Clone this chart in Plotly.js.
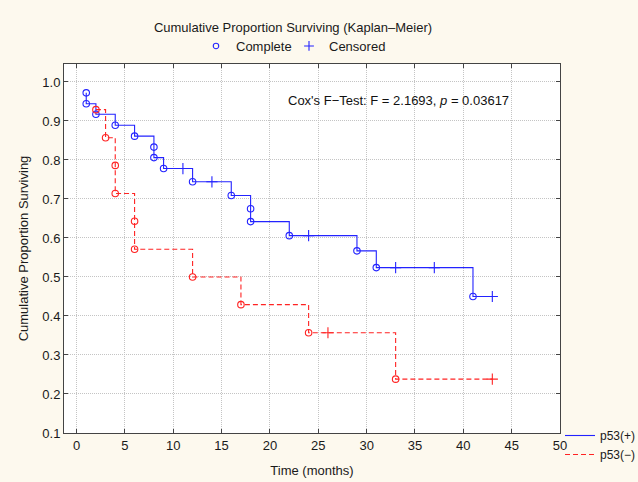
<!DOCTYPE html>
<html><head><meta charset="utf-8">
<script src="https://cdn.plot.ly/plotly-3.0.1.min.js"></script>
<style>html,body{margin:0;padding:0;background:#fdf9ee}</style>
</head><body><div id="chart" style="width:638px;height:482px"></div>
<script>
// p53(+) group: time (months), cumulative proportion surviving, status (1 = complete, 0 = censored)
const posTimes  = [1, 1, 2, 4, 6, 8, 8, 9, 11, 12, 14, 16, 18, 18, 22, 24, 29, 31, 33, 37, 41, 43];
const posSurv   = [0.972, 0.944, 0.917, 0.889, 0.861, 0.833, 0.806, 0.778, 0.778, 0.744, 0.744, 0.709, 0.675, 0.642, 0.606, 0.606, 0.567, 0.524, 0.524, 0.524, 0.450, 0.450];
const posStatus = [1, 1, 1, 1, 1, 1, 1, 1, 0, 1, 0, 1, 1, 1, 1, 0, 1, 1, 0, 0, 1, 0];
// p53(-) group
const negTimes  = [2, 3, 4, 4, 6, 6, 12, 17, 24, 26, 33, 43];
const negSurv   = [0.929, 0.857, 0.786, 0.714, 0.643, 0.571, 0.500, 0.429, 0.357, 0.357, 0.238, 0.238];
const negStatus = [1, 1, 1, 1, 1, 1, 1, 1, 1, 0, 1, 0];

const xTicks = [0, 5, 10, 15, 20, 25, 30, 35, 40, 45, 50];
const yTicks = [0.1, 0.2, 0.3, 0.4, 0.5, 0.6, 0.7, 0.8, 0.9, 1.0];

const BLUE = 'rgb(35,35,255)';
const RED = 'rgb(255,35,35)';
const FONT = 'Liberation Sans, Arial, sans-serif';
const TXT = '#1a1a1a';

function pick(arr, status, s) { return arr.filter((_, i) => status[i] === s); }

const traces = [
  {x: posTimes, y: posSurv, mode: 'lines', line: {shape: 'hv', color: BLUE, width: 1.1},
   name: 'p53(+)', legend: 'legend', hoverinfo: 'skip'},
  {x: negTimes, y: negSurv, mode: 'lines', line: {shape: 'hv', color: RED, width: 1.1, dash: '5px,3px'},
   name: 'p53(\u2212)', legend: 'legend', hoverinfo: 'skip'},
  {x: pick(posTimes, posStatus, 1), y: pick(posSurv, posStatus, 1), mode: 'markers', showlegend: false,
   marker: {symbol: 'circle-open', size: 6.5, color: BLUE, line: {width: 1.1, color: BLUE}}},
  {x: pick(posTimes, posStatus, 0), y: pick(posSurv, posStatus, 0), mode: 'markers', showlegend: false,
   marker: {symbol: 'cross-thin-open', size: 8, color: BLUE, line: {width: 1.1, color: BLUE}}},
  {x: pick(negTimes, negStatus, 1), y: pick(negSurv, negStatus, 1), mode: 'markers', showlegend: false,
   marker: {symbol: 'circle-open', size: 6.5, color: RED, line: {width: 1.1, color: RED}}},
  {x: pick(negTimes, negStatus, 0), y: pick(negSurv, negStatus, 0), mode: 'markers', showlegend: false,
   marker: {symbol: 'cross-thin-open', size: 8, color: RED, line: {width: 1.1, color: RED}}},
  {x: [null], y: [null], mode: 'markers', name: 'Complete', legend: 'legend2',
   marker: {symbol: 'circle-open', size: 5.5, color: BLUE, line: {width: 1.1, color: BLUE}}},
  {x: [null], y: [null], mode: 'markers', name: 'Censored', legend: 'legend3',
   marker: {symbol: 'cross-thin-open', size: 7, color: BLUE, line: {width: 1.1, color: BLUE}}}
];

const axisCommon = {
  showline: true, linecolor: '#444', linewidth: 1, mirror: 'ticks',
  ticks: 'inside', ticklen: 4, tickcolor: '#444',
  showgrid: true, gridcolor: '#c4c4c4', griddash: '1px,1px', gridwidth: 1,
  zeroline: false, tickfont: {family: FONT, size: 13, color: TXT}
};

const topLegend = (x) => ({orientation: 'h', xref: 'container', yref: 'container', x: x / 638, xanchor: 'left',
  y: 1 - 46 / 482, yanchor: 'middle', bgcolor: 'rgba(0,0,0,0)', font: {family: FONT, size: 13, color: TXT}});

const layout = {
  width: 638, height: 482,
  paper_bgcolor: '#fdf9ee', plot_bgcolor: '#ffffff',
  margin: {l: 64, r: 77, t: 64, b: 49},
  font: {family: FONT, size: 13, color: TXT},
  title: {text: 'Cumulative Proportion Surviving (Kaplan\u2013Meier)', xref: 'container', x: 293 / 638, xanchor: 'center',
          yref: 'container', y: 1 - 27 / 482, yanchor: 'middle', font: {family: FONT, size: 13, color: TXT}},
  xaxis: Object.assign({}, axisCommon, {range: [-1.3, 50], tickvals: xTicks, ticktext: xTicks.map(String),
    title: {text: 'Time (months)', font: {family: FONT, size: 13, color: TXT}, standoff: 14}}),
  yaxis: Object.assign({}, axisCommon, {range: [0.1, 1.046], tickvals: yTicks, ticktext: yTicks.map(v => v.toFixed(1)),
    title: {text: 'Cumulative Proportion Surviving', font: {family: FONT, size: 13, color: TXT}, standoff: 10}}),
  legend: {xref: 'container', yref: 'container', x: 560 / 638, xanchor: 'left', y: 1 - 421 / 482, yanchor: 'top',
           bgcolor: 'rgba(0,0,0,0)', font: {family: FONT, size: 12, color: TXT}, tracegroupgap: 0},
  legend2: topLegend(196),
  legend3: topLegend(289),
  annotations: [{text: "Cox's F\u2212Test: F = 2.1693, <i>p</i> = 0.03617", xref: 'paper', yref: 'paper',
                 x: 0.447, y: 0.9, xanchor: 'left', yanchor: 'middle', showarrow: false,
                 font: {family: FONT, size: 13, color: '#111'}}],
  showlegend: true
};

Plotly.newPlot('chart', traces, layout, {displayModeBar: false, staticPlot: true});
</script></body></html>
